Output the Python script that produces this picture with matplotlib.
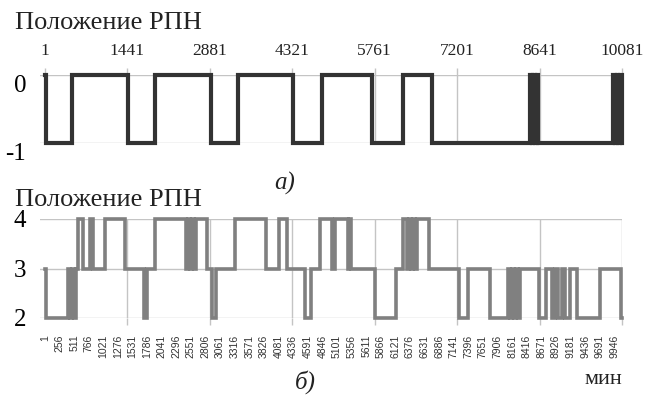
import matplotlib
matplotlib.use("Agg")
import matplotlib.pyplot as plt
import matplotlib.transforms as mtransforms

# ---- data ----
# top chart (а): tap-changer position, change points (minute) and value after the change
top_minutes = [1, 18, 473, 1445, 1923, 2895, 3373, 4330, 4840, 5715, 6250, 6757,
               8475, 8505, 8535, 8565, 8595, 8620,
               9925, 9955, 9985, 10015, 10045, 10081]
top_values = [0, -1, 0, -1, 0, -1, 0, -1, 0, -1, 0, -1,
              0, -1, 0, -1, 0, -1,
              0, -1, 0, -1, 0, -1]
top_ticks = [1, 1441, 2881, 4321, 5761, 7201, 8641, 10081]

# bottom chart (б)
bot_minutes = [1, 18, 403, 438, 473, 508, 543, 578, 665, 787, 840, 1049, 1399,
               1731, 1783, 1923, 2464, 2499, 2534, 2569, 2604, 2639, 2831, 2918,
               2990, 3320, 3862, 4089, 4229, 4543, 4648, 4805, 5015, 5067, 5294,
               5320, 5347, 5766, 6133, 6255, 6325, 6360, 6395, 6430, 6465, 6500,
               6710, 7234, 7391, 7775, 8090, 8125, 8160, 8195, 8230, 8265, 8300,
               8632, 8754, 8859, 8911, 8964, 9034, 9085, 9180, 9294, 9696, 10060,
               10081]
bot_values = [3, 2, 3, 2, 3, 2, 3, 4, 3, 4, 3, 4, 3,
              2, 3, 4, 3, 4, 3, 4, 3, 4, 3, 2,
              3, 4, 3, 4, 3, 2, 3, 4, 3, 4, 3,
              4, 3, 2, 3, 4, 3, 4, 3, 4, 3, 4,
              3, 2, 3, 2, 3, 2, 3, 2, 3, 2, 3,
              2, 3, 2, 3, 2, 3, 2, 3, 2, 3, 2,
              2]
bot_label_ticks = list(range(1, 10081, 255))
grid_days = [1441, 2881, 4321, 5761, 7201, 8641, 10081]

serif = "Liberation Serif"
GRID = "#c4c4c4"
W, H = 657, 396
fig = plt.figure(figsize=(W / 100, H / 100), dpi=100)

xl = (-85, 10081)
# ---- top axes ----
ax1 = fig.add_axes([40 / W, 1 - 143 / H, 582 / W, 68 / H])
ax1.step(top_minutes, top_values, where="post", color="#333333", lw=3.0,
         clip_on=False, solid_joinstyle="miter", zorder=3)
ax1.set_xlim(*xl)
ax1.set_ylim(-1, 0)
for s in ax1.spines.values():
    s.set_visible(False)
ax1.xaxis.tick_top()
ax1.set_xticks(top_ticks, [str(t) for t in top_ticks])
ax1.tick_params(axis="x", direction="out", length=5, width=1, color=GRID,
                pad=6.5, labelsize=12.5, labelcolor="#222222")
for lab in ax1.get_xticklabels():
    lab.set_fontfamily(serif)
ax1.set_yticks([0, -1], ["0", "-1"])
ax1.tick_params(axis="y", length=0, pad=10, labelsize=18)
off = mtransforms.ScaledTranslation(0, -8 / 100, fig.dpi_scale_trans)
for lab in ax1.get_yticklabels():
    lab.set_fontfamily(serif)
    lab.set_transform(lab.get_transform() + off)
ax1.grid(True, axis="both", color=GRID, lw=1)
ax1.set_axisbelow(True)

# ---- bottom axes ----
ax2 = fig.add_axes([40 / W, 1 - 318 / H, 582 / W, 99 / H])
ax2.step(bot_minutes, bot_values, where="post", color="#808080", lw=2.6,
         clip_on=False, solid_joinstyle="miter", zorder=3)
ax2.set_xlim(*xl)
ax2.set_ylim(2, 4)
for s in ax2.spines.values():
    s.set_visible(False)
ax2.set_xticks(bot_label_ticks, [str(t) for t in bot_label_ticks])
ax2.tick_params(axis="x", which="major", length=0, pad=12, labelsize=7.5,
                labelrotation=90, labelcolor="#333333")
for lab in ax2.get_xticklabels():
    lab.set_fontfamily("Liberation Sans")
    lab.set_verticalalignment("top")
ax2.set_xticks(grid_days, minor=True)
ax2.tick_params(axis="x", which="minor", length=5, width=1, color=GRID)
ax2.set_yticks([2, 3, 4], ["2", "3", "4"])
ax2.tick_params(axis="y", length=0, pad=10, labelsize=18)
for lab in ax2.get_yticklabels():
    lab.set_fontfamily(serif)
ax2.grid(True, axis="x", which="minor", color=GRID, lw=1)
ax2.grid(True, axis="y", which="major", color=GRID, lw=1)
ax2.set_axisbelow(True)

# ---- texts ----
fig.text(15 / W, 1 - 23 / H, "Положение РПН", fontfamily=serif, fontsize=19,
         va="center", ha="left", color="#222222")
fig.text(15 / W, 1 - 200 / H, "Положение РПН", fontfamily=serif, fontsize=19,
         va="center", ha="left", color="#222222")
fig.text(285 / W, 1 - 183 / H, "а)", fontfamily=serif, fontsize=18,
         style="italic", va="center", ha="center", color="#222222")
fig.text(305 / W, 1 - 382 / H, "б)", fontfamily=serif, fontsize=18,
         style="italic", va="center", ha="center", color="#222222")
fig.text(622 / W, 1 - 379 / H, "мин", fontfamily=serif, fontsize=16,
         va="center", ha="right", color="#222222")

fig.savefig("out.png", dpi=100)
